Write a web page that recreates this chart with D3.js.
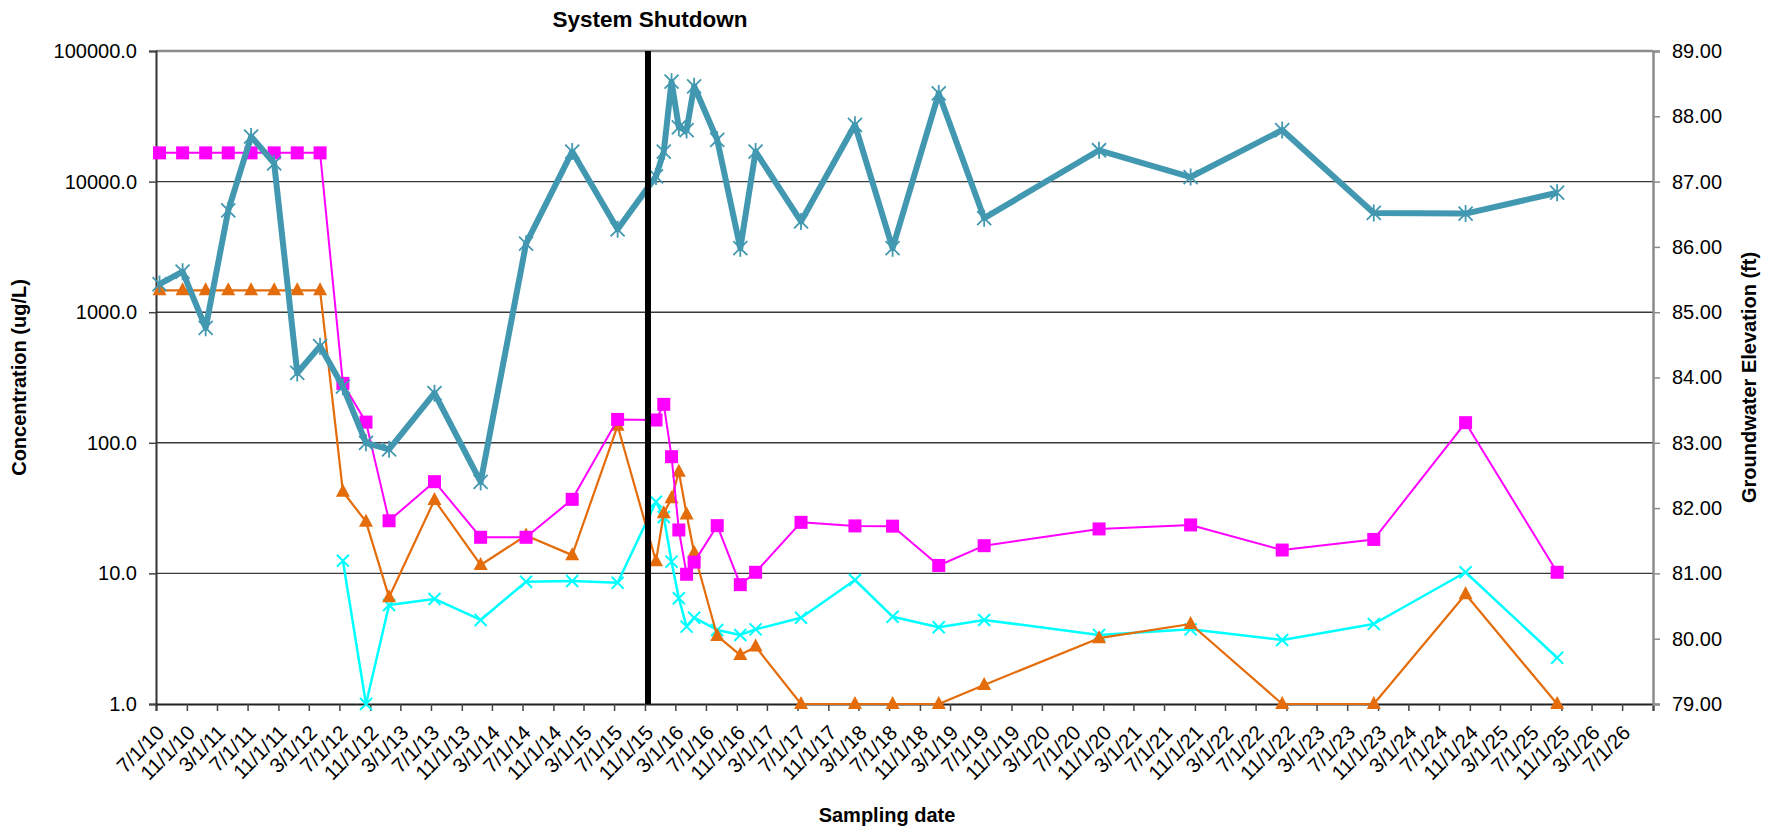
<!DOCTYPE html>
<html>
<head>
<meta charset="utf-8">
<script src="https://cdn.jsdelivr.net/npm/d3@7"></script>
<style>
  body { margin: 0; background: #fff; }
  svg text { font-family: "Liberation Sans", Arial, sans-serif; fill: #000; }
</style>
</head>
<body>
<div id="viz-container"></div>
<script>
// sampling dates (one per row, shared by all series)
let sampleDates = [
    "2010-07-15", "2010-10-15", "2011-01-15", "2011-04-15", "2011-07-15", "2011-10-15",
    "2012-01-15", "2012-04-15", "2012-07-15", "2012-10-15", "2013-01-15", "2013-07-15",
    "2014-01-15", "2014-07-15", "2015-01-15", "2015-07-15", "2015-12-15", "2016-01-15",
    "2016-02-15", "2016-03-15", "2016-04-15", "2016-05-15", "2016-08-15", "2016-11-15",
    "2017-01-15", "2017-07-15", "2018-02-15", "2018-07-15", "2019-01-15", "2019-07-15",
    "2020-10-15", "2021-10-15", "2022-10-15", "2023-10-15", "2024-10-15", "2025-10-15"
];

// concentrations (ug/L), null = not sampled
let squareConc = [
    16600, 16600, 16600, 16600, 16600, 16600, 16600, 16600, 285, 144, 25.3, 50.4,
    18.9, 18.9, 36.9, 151, 149.5, 197, 78.3, 21.5, 9.85, 12.2, 23.2, 8.2,
    10.2, 24.6, 23.1, 23.0, 11.5, 16.3, 21.9, 23.5, 15.1, 18.2, 142.6, 10.2
];
let triangleConc = [
    1470, 1470, 1470, 1470, 1470, 1470, 1470, 1470, 42.2, 24.9, 6.56, 36.5,
    11.6, 19.5, 13.8, 135, 12.4, 28.9, 37.6, 60.1, 28.3, 14.4, 3.32, 2.37,
    2.75, 1.0, 1.0, 1.0, 1.0, 1.40, 3.19, 4.10, 1.0, 1.0, 6.92, 1.0
];
let crossConc = [
    null, null, null, null, null, null, null, null, 12.5, 1.0, 5.73, 6.37,
    4.40, 8.64, 8.75, 8.49, 35.4, 27.0, 12.3, 6.45, 3.91, 4.58, 3.69, 3.38,
    3.73, 4.58, 8.9, 4.66, 3.87, 4.40, 3.38, 3.73, 3.09, 4.10, 10.2, 2.26
];
// groundwater elevation (ft)
let gwElevation = [
    85.43, 85.62, 84.76, 86.56, 87.69, 87.28, 84.07, 84.48, 83.86, 83.00, 82.90, 83.76,
    82.40, 86.05, 87.46, 86.27, 87.08, 87.46, 88.53, 87.83, 87.79, 88.46, 87.64, 85.98,
    87.46, 86.39, 87.87, 85.98, 88.35, 86.44, 87.48, 87.07, 87.79, 86.52, 86.51, 86.83
];

let shutdownDate = "2015-11-13";
let concTicks = [1, 10, 100, 1000, 10000, 100000];
let elevTicks = [79, 80, 81, 82, 83, 84, 85, 86, 87, 88, 89];

let parse = d3.timeParse("%Y-%m-%d");

let plotLeft = 156, plotRight = 1653, plotTop = 51, plotBottom = 704;

let viz = d3.select("#viz-container")
    .append("svg")
        .attr("width", 1767)
        .attr("height", 832)
;

let x = d3.scaleTime()
    .domain([new Date(2010, 6, 1), new Date(2026, 10, 1)])
    .range([plotLeft, plotRight]);
let yConc = d3.scaleLog().domain([1, 100000]).range([plotBottom, plotTop]);
let yElev = d3.scaleLinear().domain([79, 89]).range([plotBottom, plotTop]);

// gridlines
viz.selectAll(".grid").data(concTicks.slice(1)).enter()
    .append("line")
        .attr("x1", plotLeft)
        .attr("x2", plotRight)
        .attr("y1", d => yConc(d))
        .attr("y2", d => yConc(d))
        .attr("stroke", d => d == 100000 ? "#8c8c8c" : "#3a3a3a")
        .attr("stroke-width", d => d == 100000 ? 2.5 : 1.4)
;

// x ticks every 4 months
let months = d3.timeMonth.range(new Date(2010, 6, 1), new Date(2026, 10, 2));
let tickDates = months.filter((d, i) => i % 4 == 0);
let lastTick = tickDates[tickDates.length - 1];

let xAxis = viz.append("g")
    .attr("transform", `translate(0,${plotBottom})`)
    .call(d3.axisBottom(x)
        .tickValues(tickDates)
        .tickSize(7)
        .tickFormat(d => d.getTime() == lastTick.getTime() ? "" :
            `${d.getMonth() + 1}/${d.getDate()}/${String(d.getFullYear()).slice(2)}`))
;
xAxis.select(".domain").attr("stroke", "#222").attr("stroke-width", 2);
xAxis.selectAll(".tick line").attr("stroke", "#444").attr("stroke-width", 1.5);
xAxis.selectAll("text")
    .attr("font-size", 20.5)
    .attr("y", null)
    .attr("dy", null)
    .attr("text-anchor", "end")
    .attr("transform", "translate(9,30) rotate(-45)")
;

// left axis
let yAxisL = viz.append("g")
    .attr("transform", `translate(${plotLeft},0)`)
    .call(d3.axisLeft(yConc)
        .tickValues(concTicks)
        .tickFormat(d3.format(".1f"))
        .tickSize(7)
        .tickPadding(12))
;
yAxisL.select(".domain").attr("stroke", "#333").attr("stroke-width", 2);
yAxisL.selectAll(".tick line").attr("stroke", "#444").attr("stroke-width", 1.5);
yAxisL.selectAll("text").attr("font-size", 20);

// right axis
let yAxisR = viz.append("g")
    .attr("transform", `translate(${plotRight},0)`)
    .call(d3.axisRight(yElev)
        .tickValues(elevTicks)
        .tickFormat(d3.format(".2f"))
        .tickSize(7)
        .tickPadding(12))
;
yAxisR.select(".domain").attr("stroke", "#8c8c8c").attr("stroke-width", 2.5);
yAxisR.selectAll(".tick line").attr("stroke", "#8c8c8c").attr("stroke-width", 1.5);
yAxisR.selectAll("text").attr("font-size", 20);

// series rows
let rows = sampleDates.map((d, i) => ({
    date: parse(d),
    sq: squareConc[i],
    tri: triangleConc[i],
    cr: crossConc[i],
    gw: gwElevation[i]
}));

function drawLine(key, scale, color, width) {
    let line = d3.line()
        .defined(d => d[key] != null)
        .x(d => x(d.date))
        .y(d => scale(d[key]));
    viz.append("path")
        .datum(rows)
        .attr("d", line)
        .attr("fill", "none")
        .attr("stroke", color)
        .attr("stroke-width", width)
        .attr("stroke-linejoin", "round")
    ;
}

let cyan = "#00ffff", orange = "#e46c0a", magenta = "#ff00ff", teal = "#4298b0";

// cyan x's
drawLine("cr", yConc, cyan, 2.5);
viz.selectAll(".crMark").data(rows.filter(d => d.cr != null)).enter()
    .append("path")
        .attr("d", "M-6,-6L6,6M-6,6L6,-6")
        .attr("transform", d => `translate(${x(d.date)},${yConc(d.cr)})`)
        .attr("stroke", cyan)
        .attr("stroke-width", 2)
        .attr("class", "crMark")
;

// orange triangles
drawLine("tri", yConc, orange, 2.2);
viz.selectAll(".triMark").data(rows).enter()
    .append("path")
        .attr("d", "M0,-8L7,5L-7,5Z")
        .attr("transform", d => `translate(${x(d.date)},${yConc(d.tri)})`)
        .attr("fill", orange)
        .attr("class", "triMark")
;

// magenta squares
drawLine("sq", yConc, magenta, 2);
viz.selectAll(".sqMark").data(rows).enter()
    .append("rect")
        .attr("x", d => x(d.date) - 6.5)
        .attr("y", d => yConc(d.sq) - 6.5)
        .attr("width", 13)
        .attr("height", 13)
        .attr("fill", magenta)
        .attr("class", "sqMark")
;

// groundwater elevation, thick teal line with asterisks
drawLine("gw", yElev, teal, 6);
viz.selectAll(".gwMark").data(rows).enter()
    .append("path")
        .attr("d", "M-7,-7L7,7M-7,7L7,-7M0,-8.5L0,8.5")
        .attr("transform", d => `translate(${x(d.date)},${yElev(d.gw)})`)
        .attr("stroke", teal)
        .attr("stroke-width", 1.8)
        .attr("class", "gwMark")
;

// system shutdown line
let sx = x(parse(shutdownDate));
viz.append("line")
    .attr("x1", sx).attr("x2", sx)
    .attr("y1", plotTop).attr("y2", plotBottom)
    .attr("stroke", "#000")
    .attr("stroke-width", 6)
;
viz.append("text")
    .attr("x", sx + 2)
    .attr("y", 27)
    .attr("text-anchor", "middle")
    .attr("font-size", 22.5)
    .attr("font-weight", "bold")
    .text("System Shutdown")
;

// axis titles
viz.append("text")
    .attr("transform", `translate(26,${(plotTop + plotBottom) / 2}) rotate(-90)`)
    .attr("text-anchor", "middle")
    .attr("font-size", 20)
    .attr("font-weight", "bold")
    .text("Concentration (ug/L)")
;
viz.append("text")
    .attr("transform", `translate(1756,${(plotTop + plotBottom) / 2}) rotate(-90)`)
    .attr("text-anchor", "middle")
    .attr("font-size", 20)
    .attr("font-weight", "bold")
    .text("Groundwater Elevation (ft)")
;
viz.append("text")
    .attr("x", 887)
    .attr("y", 822)
    .attr("text-anchor", "middle")
    .attr("font-size", 20)
    .attr("font-weight", "bold")
    .text("Sampling date")
;
</script>
</body>
</html>
